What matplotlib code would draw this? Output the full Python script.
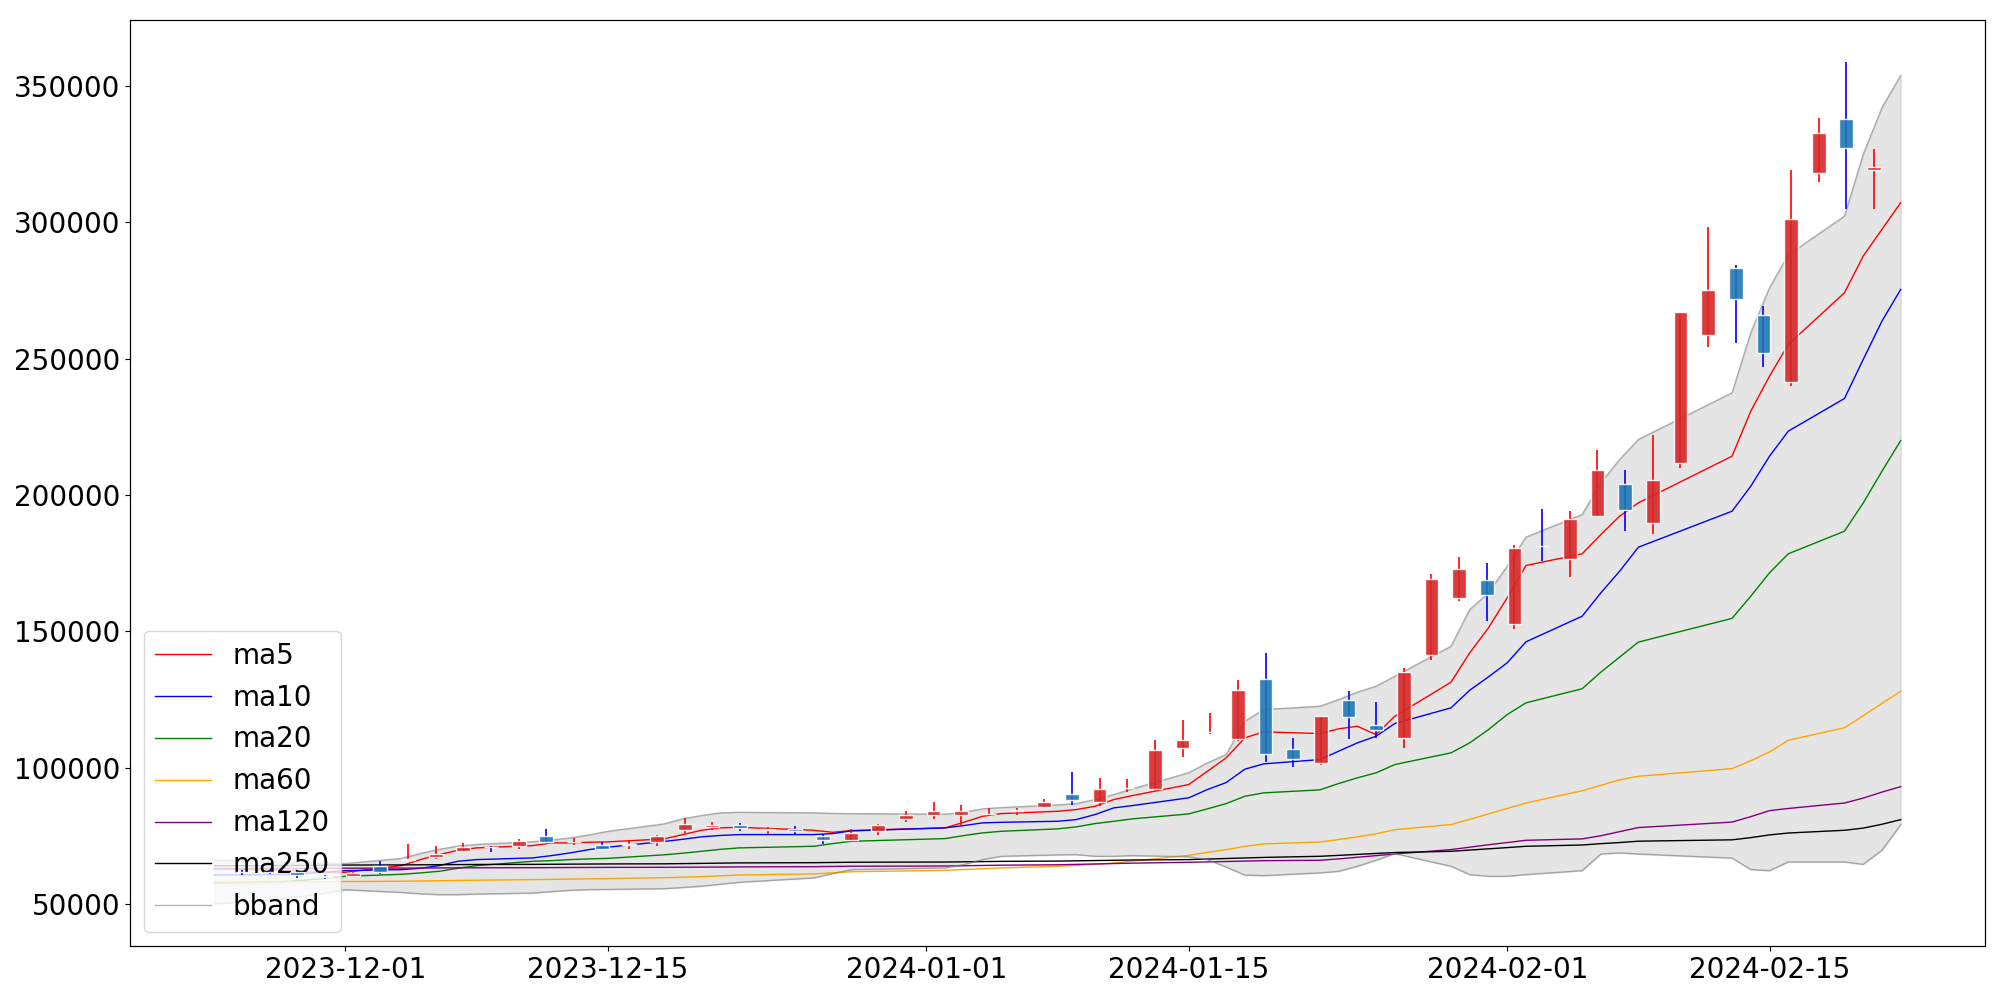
import pandas as pd
import matplotlib
matplotlib.use('Agg')
import matplotlib.pyplot as plt
import matplotlib.dates as mdates

dates = ['2023-11-24', '2023-11-27', '2023-11-28', '2023-11-29', '2023-11-30',
         '2023-12-01', '2023-12-04', '2023-12-05', '2023-12-06', '2023-12-07',
         '2023-12-08', '2023-12-11', '2023-12-12', '2023-12-13', '2023-12-14',
         '2023-12-15', '2023-12-18', '2023-12-19', '2023-12-20', '2023-12-21',
         '2023-12-22', '2023-12-26', '2023-12-27', '2023-12-28', '2024-01-02',
         '2024-01-03', '2024-01-04', '2024-01-05', '2024-01-08', '2024-01-09',
         '2024-01-10', '2024-01-11', '2024-01-12', '2024-01-15', '2024-01-16',
         '2024-01-17', '2024-01-18', '2024-01-19', '2024-01-22', '2024-01-23',
         '2024-01-24', '2024-01-25', '2024-01-26', '2024-01-29', '2024-01-30',
         '2024-01-31', '2024-02-01', '2024-02-02', '2024-02-05', '2024-02-06',
         '2024-02-07', '2024-02-08', '2024-02-13', '2024-02-14', '2024-02-15',
         '2024-02-16', '2024-02-19', '2024-02-20', '2024-02-21', '2024-02-22']

open_ = [61800, 61800, 61600, 60100, 60120, 64050, 66200, 67240, 69550, 70800,
         71130, 74800, 72650, 71750, 71650, 72680, 77000, 78250, 78850, 77150,
         77600, 74800, 73600, 76650, 81200, 82500, 82750, 83000, 84100, 85450,
         90350, 87250, 92450, 92300, 107200, 112900, 110600, 132650, 106850, 101700,
         124700, 115500, 111000, 141400, 162000, 168950, 152800, 181200, 176650, 192200,
         203800, 189500, 211750, 258800, 283300, 265800, 241300, 318000, 337900, 319100]
high = [62600, 62600, 62200, 60750, 61960, 65900, 72000, 71130, 72370, 71400,
        73950, 77620, 74060, 72600, 73000, 75420, 81540, 80080, 79700, 78250,
        78450, 75700, 77500, 79450, 84200, 87500, 86300, 85200, 85200, 88500,
        98550, 96200, 95850, 110100, 117600, 120050, 132250, 142050, 110900, 119000,
        128250, 124200, 136550, 171150, 177300, 175100, 181550, 194800, 194000, 216300,
        209300, 221900, 267200, 298300, 284250, 269200, 319100, 338150, 358700, 326950]
low = [60700, 61000, 59550, 59150, 59900, 61100, 66000, 66500, 68930, 68930,
       70170, 72370, 71500, 69920, 70300, 71130, 76040, 77000, 76900, 75800,
       75800, 72100, 72950, 75400, 79950, 81200, 79100, 82150, 82750, 85300,
       86300, 86050, 91100, 91300, 103900, 112350, 109650, 102100, 100250, 100850,
       110500, 110900, 107200, 139350, 161000, 153700, 150850, 175700, 169950, 192000,
       186700, 185700, 209900, 254300, 255800, 247000, 240100, 314800, 304900, 304900]
close = [61600, 61700, 60500, 60000, 61370, 61850, 66500, 68200, 70760, 70700,
         73220, 72850, 72800, 70290, 71850, 74730, 79340, 78850, 77900, 77350,
         76650, 73350, 76150, 79100, 82650, 84200, 84200, 83150, 84300, 87500,
         88250, 92200, 92650, 106600, 110250, 113100, 128600, 105150, 103300, 118950,
         118700, 113700, 134950, 169300, 172900, 163450, 180600, 181200, 191300, 209300,
         194600, 205600, 267150, 275300, 271650, 252100, 301250, 332800, 327300, 320300]

ma5 = [62800, 62500, 62200, 61800, 61500, 61600, 64050, 66250, 68080, 69660,
       70540, 71380, 72370, 72370, 72600, 72750, 73840, 75420, 77000, 77880,
       78100, 77000, 76260, 76890, 77880, 79930, 82130, 83120, 83970, 84590,
       85800, 88260, 89730, 93760, 98640, 103550, 110890, 113090, 112470, 114190,
       115160, 112100, 118810, 131280, 142070, 151240, 162240, 174090, 178380, 185460,
       192170, 197080, 214180, 230690, 243530, 255150, 274110, 287550, 297340, 307130]
ma10 = [60600, 60700, 60900, 61200, 61700, 62210, 62580, 63060, 64050, 65630,
        66250, 66870, 67720, 68710, 69920, 70800, 72900, 73700, 74600, 75100,
        75420, 75420, 75790, 76780, 77880, 78720, 79710, 79930, 80300, 80920,
        82760, 85210, 86060, 88900, 91930, 94500, 99400, 101350, 102930, 105980,
        109050, 111490, 116140, 121890, 128360, 133260, 138400, 146100, 155500, 164080,
        172000, 180800, 194010, 203180, 214180, 223350, 235340, 249650, 263700, 275330]
ma20 = [57700, 58000, 58300, 58800, 59400, 60130, 60860, 61370, 61960, 63060,
        64050, 65630, 65880, 66250, 66510, 66700, 68000, 68600, 69300, 70000,
        70540, 71130, 72120, 72960, 73950, 75050, 76040, 76630, 77510, 78240,
        79450, 80300, 81180, 83000, 84850, 86790, 89470, 90720, 91820, 94130,
        96220, 98050, 101100, 105390, 109050, 113930, 119430, 123730, 128900, 135000,
        140500, 146000, 154700, 162830, 171410, 178380, 186670, 197000, 208650, 219900]
ma60 = [58000, 58050, 58100, 58100, 58150, 58200, 58300, 58400, 58500, 58600,
        58700, 58900, 59000, 59100, 59200, 59300, 59600, 59800, 60000, 60300,
        60600, 61000, 61400, 61800, 62300, 62600, 62900, 63200, 63800, 64100,
        64500, 65000, 65700, 67800, 68900, 69900, 71100, 72000, 72700, 73600,
        74600, 75700, 77200, 79100, 81000, 83000, 85000, 87000, 91500, 93500,
        95500, 96800, 99600, 102500, 105700, 110000, 114600, 119000, 123500, 128000]
ma120 = [63000, 63020, 63040, 63060, 63080, 63100, 63130, 63160, 63190, 63220,
         63250, 63280, 63310, 63340, 63370, 63400, 63430, 63460, 63490, 63530,
         63570, 63650, 63730, 63810, 63900, 64000, 64100, 64200, 64350, 64500,
         64650, 64800, 64950, 65260, 65400, 65550, 65700, 65850, 66000, 66500,
         67100, 67700, 68300, 69920, 70800, 71700, 72500, 73330, 73840, 75000,
         76500, 78000, 80000, 82000, 84200, 85000, 87000, 88800, 91000, 93000]
ma250 = [64000, 64050, 64100, 64150, 64200, 64250, 64300, 64340, 64380, 64420,
         64460, 64500, 64540, 64580, 64620, 64660, 64700, 64780, 64860, 64950,
         65040, 65120, 65200, 65280, 65360, 65440, 65520, 65600, 65700, 65800,
         65900, 66000, 66100, 66250, 66450, 66650, 66850, 67050, 67460, 67800,
         68150, 68500, 68850, 69290, 69750, 70200, 70650, 71130, 71600, 72100,
         72500, 73000, 73500, 74300, 75300, 76000, 77000, 77800, 79200, 80900]
bb_upper = [66000, 65500, 65200, 65000, 64900, 64800, 66700, 68500, 70000, 71200,
            71800, 72800, 73400, 74200, 75300, 76600, 79340, 81180, 82400, 83380,
            83600, 83400, 83200, 83100, 82900, 83600, 84850, 85320, 86310, 86790,
            88260, 90090, 92180, 98100, 101720, 104770, 116980, 121270, 122480, 124940,
            127620, 129820, 133490, 144490, 157950, 164080, 173830, 184500, 192800, 204420,
            212970, 220300, 237430, 259440, 275950, 288000, 302210, 324840, 341970, 353820]
bb_lower = [50000, 51500, 52300, 53000, 54000, 55200, 54200, 53700, 53400, 53400,
            53600, 54000, 54500, 55000, 55250, 55300, 55600, 56000, 56500, 57200,
            57920, 59540, 61110, 62580, 63200, 64420, 66250, 67460, 67970, 68080,
            67460, 67460, 67720, 67300, 66250, 63500, 60570, 60380, 61370, 61960,
            63790, 65990, 68450, 63790, 60750, 60130, 60130, 60750, 62200, 68300,
            68700, 68300, 66800, 62600, 62200, 65400, 65400, 64500, 69700, 79000]

df = pd.DataFrame({'open': open_, 'high': high, 'low': low, 'close': close},
                  index=pd.to_datetime(dates))
x = df.index

fig, ax = plt.subplots(figsize=(20, 10), dpi=100)
plt.subplots_adjust(left=0.065, right=0.9925, bottom=0.054, top=0.98)

# moving averages and bollinger band on the date axis
ax.plot(x, ma5, color='red', lw=1, label='ma5')
ax.plot(x, ma10, color='blue', lw=1, label='ma10')
ax.plot(x, ma20, color='green', lw=1, label='ma20')
ax.plot(x, ma60, color='orange', lw=1, label='ma60')
ax.plot(x, ma120, color='purple', lw=1, label='ma120')
ax.plot(x, ma250, color='black', lw=1, label='ma250')
ax.plot(x, bb_upper, color='gray', lw=1, alpha=0.6, label='bband')
ax.plot(x, bb_lower, color='gray', lw=1, alpha=0.6)
ax.fill_between(x, bb_lower, bb_upper, color='gray', alpha=0.2)

ax.xaxis.set_major_locator(mdates.DayLocator(bymonthday=[1, 15]))
ax.xaxis.set_major_formatter(mdates.DateFormatter('%Y-%m-%d'))
ax.tick_params(labelsize=20)
ax.legend(loc='lower left', fontsize=20)

# candles on an index axis drawn over everything
ax2 = ax.twiny()
idx = list(range(len(df)))
up = df['close'] > df['open']
wick_colors = ['red' if u else 'blue' for u in up]
body_colors = ['tab:red' if u else 'tab:blue' for u in up]
ax2.vlines(idx, df['low'], df['high'], colors=wick_colors, lw=1.2, zorder=1)
bottoms = df[['open', 'close']].min(axis=1)
heights = (df['close'] - df['open']).abs()
ax2.bar(idx, heights, bottom=bottoms, width=0.5, color=body_colors, alpha=0.9,
        edgecolor='white', linewidth=1, zorder=2)
ax2.set_xlim(-4.05, 63.01)
ax2.set_xticks([])
ax2.tick_params(top=False, labeltop=False)

plt.savefig('out.png')
